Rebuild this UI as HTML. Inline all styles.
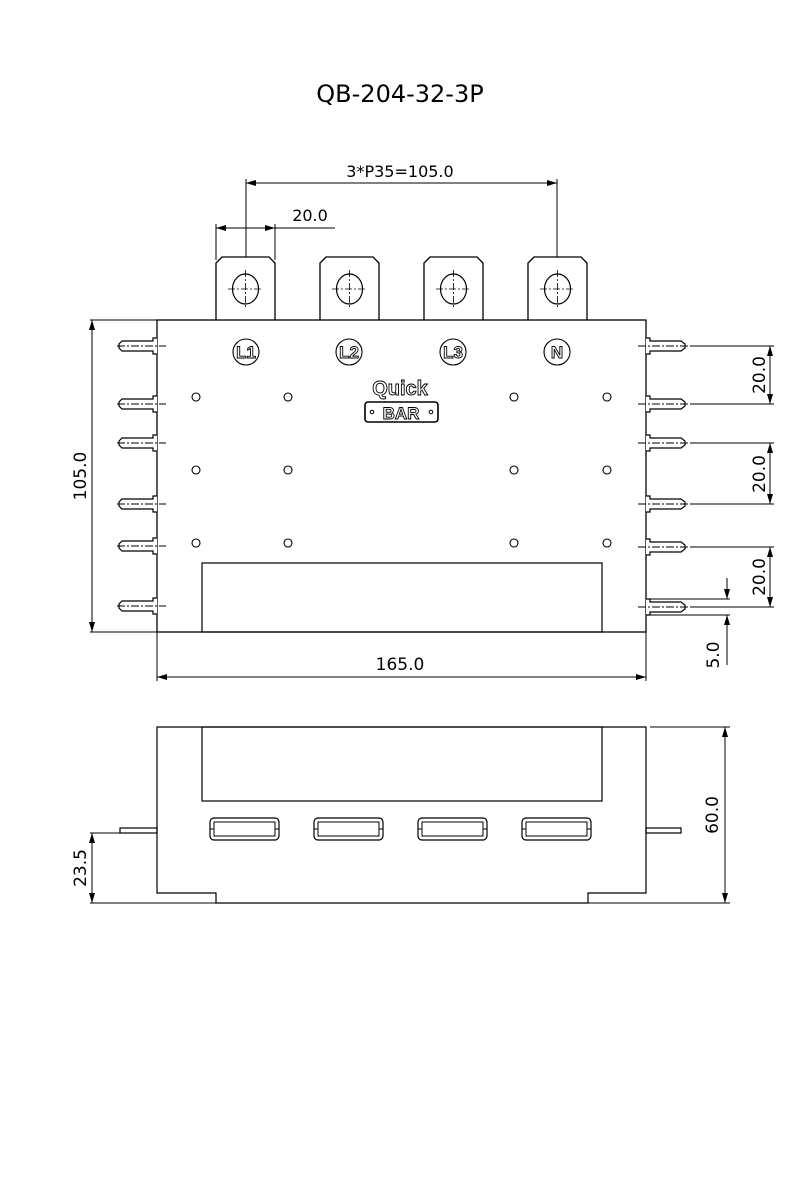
<!DOCTYPE html>
<html><head><meta charset="utf-8"><style>html,body{margin:0;padding:0;background:#fff}svg{display:block}</style></head><body>
<svg width="800" height="1200" viewBox="0 0 800 1200" xmlns="http://www.w3.org/2000/svg" font-family="DejaVu Sans, Liberation Sans, sans-serif">
<defs>
<marker id="a" viewBox="0 0 10 6" refX="10" refY="3" markerWidth="10" markerHeight="6" orient="auto-start-reverse" markerUnits="userSpaceOnUse"><path d="M0,0 L10,3 L0,6z" fill="#000"/></marker>
<g id="pl"><path d="M157,338 h-4 v3 h-31 l-3,3 v4 l3,3 h31 v3 h4" fill="#fff" stroke="#000" stroke-width="1.2"/><line x1="117" y1="346" x2="166" y2="346" stroke="#000" stroke-dasharray="8,2,2,2"/></g>
<g id="pr"><path d="M646,338 h4 v3 h31 l4,3 v4 l-4,3 h-31 v3 h-4" fill="#fff" stroke="#000" stroke-width="1.2"/><line x1="638" y1="346" x2="688" y2="346" stroke="#000" stroke-dasharray="8,2,2,2"/></g>
<g id="tab"><path d="M0,320 V263 l6,-6 h47 l6,6 V320" fill="#fff" stroke="#000" stroke-width="1.3"/><ellipse cx="29.5" cy="289" rx="13" ry="15" fill="none" stroke="#000" stroke-width="1.2"/><line x1="29.5" y1="270" x2="29.5" y2="308" stroke="#000" stroke-width="0.8" stroke-dasharray="7,2,2,2"/><line x1="12" y1="289" x2="47" y2="289" stroke="#000" stroke-width="0.8" stroke-dasharray="7,2,2,2"/></g>
<g id="slot"><rect x="0" y="818" width="69" height="22" rx="4" fill="none" stroke="#000" stroke-width="1.2"/><rect x="4" y="822" width="61" height="14" fill="none" stroke="#000" stroke-width="1"/><line x1="0" y1="829" x2="4" y2="829" stroke="#000"/><line x1="65" y1="829" x2="69" y2="829" stroke="#000"/></g>
</defs>
<text x="400" y="102" font-size="24" text-anchor="middle">QB-204-32-3P</text>
<g stroke="#000" fill="none" stroke-width="1">
<line x1="246" y1="179" x2="246" y2="290"/><line x1="557" y1="179" x2="557" y2="270"/>
<line x1="246" y1="183" x2="557" y2="183" marker-start="url(#a)" marker-end="url(#a)"/>
<line x1="216" y1="224" x2="216" y2="260"/><line x1="275" y1="224" x2="275" y2="260"/>
<line x1="216" y1="228" x2="275" y2="228" marker-start="url(#a)" marker-end="url(#a)"/><line x1="275" y1="228" x2="335" y2="228"/>
</g>
<text x="400" y="177" font-size="16" text-anchor="middle">3*P35=105.0</text>
<text x="310" y="221" font-size="16" text-anchor="middle">20.0</text>
<use href="#tab" transform="translate(216,0)"/><use href="#tab" transform="translate(320,0)"/><use href="#tab" transform="translate(424,0)"/><use href="#tab" transform="translate(528,0)"/>
<rect x="157" y="320" width="489" height="312" fill="#fff" stroke="#000" stroke-width="1.3"/>
<rect x="202" y="563" width="400" height="69" fill="none" stroke="#000" stroke-width="1.2"/>
<g>
<use href="#pl"/><use href="#pl" y="58"/><use href="#pl" y="97"/><use href="#pl" y="158"/><use href="#pl" y="200"/><use href="#pl" y="260"/>
<use href="#pr"/><use href="#pr" y="58"/><use href="#pr" y="97"/><use href="#pr" y="158"/><use href="#pr" y="201"/><use href="#pr" y="261"/>
</g>
<g fill="none" stroke="#000" stroke-width="1.1">
<circle cx="246" cy="352" r="13"/><circle cx="349" cy="352" r="13"/><circle cx="453" cy="352" r="13"/><circle cx="557" cy="352" r="13"/>
<circle cx="196" cy="397" r="4"/><circle cx="288" cy="397" r="4"/><circle cx="514" cy="397" r="4"/><circle cx="607" cy="397" r="4"/>
<circle cx="196" cy="470" r="4"/><circle cx="288" cy="470" r="4"/><circle cx="514" cy="470" r="4"/><circle cx="607" cy="470" r="4"/>
<circle cx="196" cy="543" r="4"/><circle cx="288" cy="543" r="4"/><circle cx="514" cy="543" r="4"/><circle cx="607" cy="543" r="4"/>
<rect x="365" y="402" width="73" height="20" rx="3" stroke-width="1.6"/>
</g>
<g font-size="17" text-anchor="middle" fill="#fff" stroke="#000" stroke-width="0.9" font-weight="bold" font-family="Liberation Sans, sans-serif">
<text x="246" y="358">L1</text><text x="349" y="358">L2</text><text x="453" y="358">L3</text><text x="557" y="358">N</text>
<text x="400" y="395" font-size="20">Quick</text><text x="401" y="419" font-size="17">BAR</text>
</g>
<circle cx="372" cy="412" r="1.8" fill="none" stroke="#000"/><circle cx="431" cy="412" r="1.8" fill="none" stroke="#000"/>
<g stroke="#000" fill="none" stroke-width="1">
<line x1="690" y1="346" x2="774" y2="346"/><line x1="690" y1="404" x2="774" y2="404"/><line x1="690" y1="443" x2="774" y2="443"/><line x1="690" y1="504" x2="774" y2="504"/><line x1="690" y1="547" x2="774" y2="547"/><line x1="690" y1="607" x2="774" y2="607"/>
<line x1="770" y1="346" x2="770" y2="404" marker-start="url(#a)" marker-end="url(#a)"/>
<line x1="770" y1="443" x2="770" y2="504" marker-start="url(#a)" marker-end="url(#a)"/>
<line x1="770" y1="547" x2="770" y2="607" marker-start="url(#a)" marker-end="url(#a)"/>
<line x1="650" y1="599" x2="730" y2="599"/><line x1="650" y1="615" x2="730" y2="615"/>
<line x1="727" y1="578" x2="727" y2="599" marker-end="url(#a)"/><line x1="727" y1="665" x2="727" y2="615" marker-end="url(#a)"/>
<line x1="90" y1="320" x2="157" y2="320"/><line x1="90" y1="632" x2="157" y2="632"/>
<line x1="92" y1="320" x2="92" y2="632" marker-start="url(#a)" marker-end="url(#a)"/>
<line x1="157" y1="632" x2="157" y2="681"/><line x1="646" y1="632" x2="646" y2="681"/>
<line x1="157" y1="677" x2="646" y2="677" marker-start="url(#a)" marker-end="url(#a)"/>
</g>
<g font-size="17" text-anchor="middle">
<text transform="translate(765,375) rotate(-90)">20.0</text>
<text transform="translate(765,474) rotate(-90)">20.0</text>
<text transform="translate(765,577) rotate(-90)">20.0</text>
<text transform="translate(719,655) rotate(-90)">5.0</text>
<text transform="translate(86,476) rotate(-90)">105.0</text>
<text x="400" y="670">165.0</text>
<text transform="translate(718,815) rotate(-90)">60.0</text>
<text transform="translate(86,868) rotate(-90)">23.5</text>
</g>
<g stroke="#000" fill="none" stroke-width="1.2">
<path d="M157,727 H646 V893 H588 V903 H216 V893 H157 Z" fill="#fff"/>
<rect x="202" y="727" width="400" height="74"/>
<rect x="120" y="828" width="37" height="5"/><rect x="646" y="828" width="35" height="5"/>
</g>
<use href="#slot" transform="translate(210,0)"/><use href="#slot" transform="translate(314,0)"/><use href="#slot" transform="translate(418,0)"/><use href="#slot" transform="translate(522,0)"/>
<g stroke="#000" fill="none" stroke-width="1">
<line x1="650" y1="727" x2="730" y2="727"/><line x1="588" y1="903" x2="730" y2="903"/><line x1="90" y1="903" x2="216" y2="903"/>
<line x1="725" y1="727" x2="725" y2="903" marker-start="url(#a)" marker-end="url(#a)"/>
<line x1="90" y1="833" x2="120" y2="833"/>
<line x1="92" y1="833" x2="92" y2="903" marker-start="url(#a)" marker-end="url(#a)"/>
</g>
</svg>
</body></html>
